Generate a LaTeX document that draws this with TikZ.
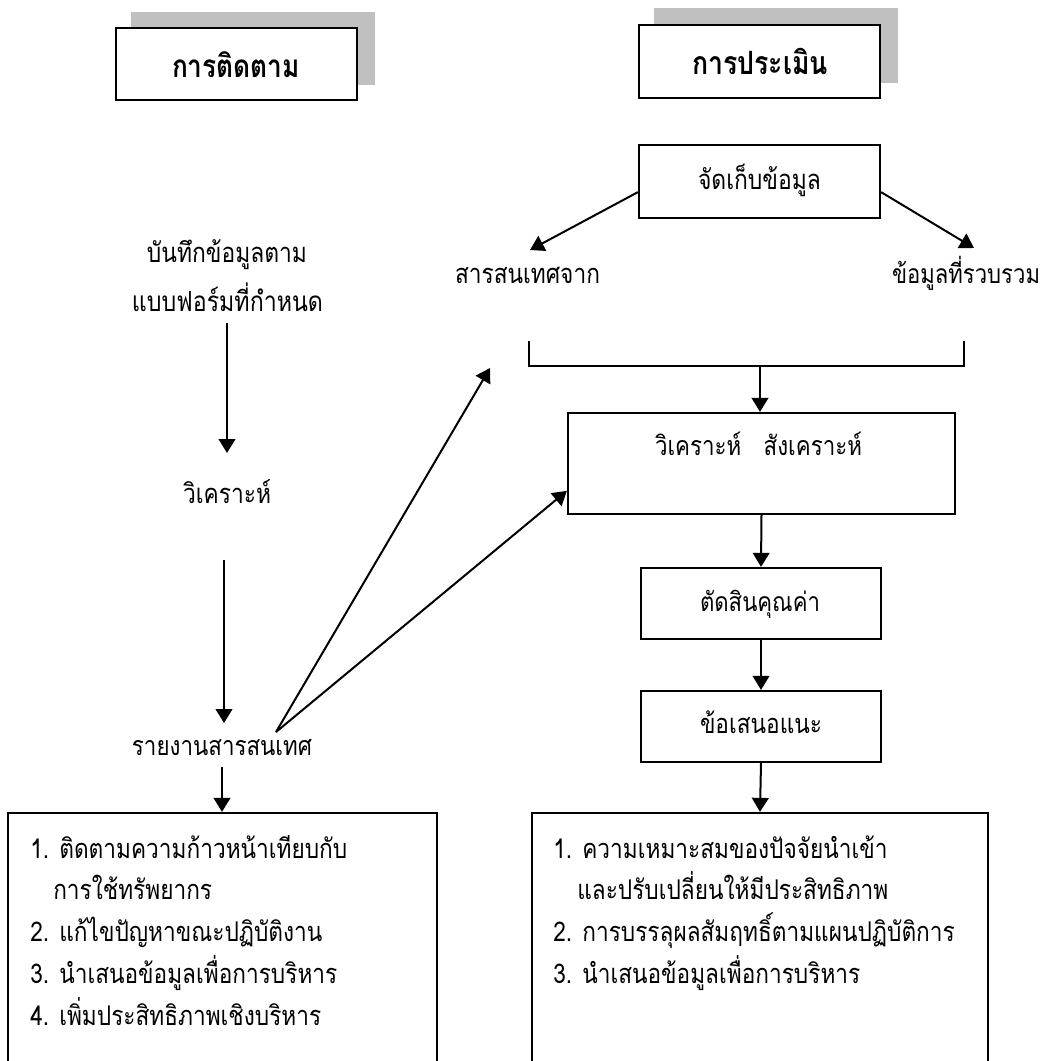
\documentclass[tikz,border=0pt]{standalone}
\usepackage{fontspec}
\usepackage{graphicx}
\setmainfont[Script=Thai]{Loma}
\usetikzlibrary{arrows.meta,calc}
\definecolor{shadowgray}{HTML}{C0C0C0}
\newcommand{\tallt}[1]{\scalebox{1}[1.2]{#1}}
\newcommand{\fitw}[2]{\tallt{\resizebox{#1pt}{!}{#2}}}
\newlength{\lstw}
\begin{document}
\settowidth{\lstw}{\fontsize{17}{20}\selectfont 3. นำเสนอข้อมูลเพื่อการบริหาร}
\pgfmathsetmacro{\lstfs}{17*230.25/\lstw}
\begin{tikzpicture}[x=0.75pt,y=-0.75pt,
  every node/.style={font=\fontsize{20}{24}\selectfont},
  frame/.style={draw, line width=1.7pt, inner sep=0pt},
  titlebox/.style={draw, line width=2.2pt, fill=white, inner sep=0pt},
  titletxt/.style={anchor=base, inner sep=0pt, font=\fontsize{20}{24}\selectfont\bfseries},
  lbl/.style={anchor=base, inner sep=0pt},
  arr/.style={line width=1.5pt, -{Triangle[length=10.5pt,width=12.5pt]}},
  lst/.style={anchor=base west, inner sep=0pt, font=\fontsize{\lstfs}{24}\selectfont},
]
\useasboundingbox (0,0) rectangle (1047,1061);
% shadows
\fill[shadowgray] (131,12) rectangle (375,85);
\fill[shadowgray] (654,8) rectangle (898,83);
% titles
\node[titlebox, minimum width=180.75pt, minimum height=54pt] (t1) at (236.5,64) {};
\node[titletxt] (t1t) at (236,77) {\fitw{96}{การติดตาม}};
\node[titlebox, minimum width=180.75pt, minimum height=54.75pt] (t2) at (759.5,61.5) {};
\node[titletxt] (t2t) at (760,74) {\fitw{102}{การประเมิน}};
% left column
\node[lbl] (rec1) at (227,262) {\fitw{120}{บันทึกข้อมูลตาม}};
\node[lbl] (rec2) at (227.5,311) {\fitw{143.25}{แบบฟอร์มที่กำหนด}};
\node[lbl] (ana) at (227,503) {\fitw{66}{วิเคราะห์}};
\node[lbl] (rep) at (222,755) {\fitw{135}{รายงานสารสนเทศ}};
\node[frame, minimum width=321.75pt, minimum height=191.25pt] (lbox) at (222.5,940.5) {};
\node[lst] (l1) at (30,858) {\tallt{1. ติดตามความก้าวหน้าเทียบกับ}};
\node[lst] (l2) at (53,899.75) {\tallt{การใช้ทรัพยากร}};
\node[lst] (l3) at (30,941.5) {\tallt{2. แก้ไขปัญหาขณะปฏิบัติงาน}};
\node[lst] (l4) at (30,983.25) {\tallt{3. นำเสนอข้อมูลเพื่อการบริหาร}};
\node[lst] (l5) at (30,1025) {\tallt{4. เพิ่มประสิทธิภาพเชิงบริหาร}};
% right column
\node[frame, minimum width=180.75pt, minimum height=54.75pt] (col) at (759.5,181.5) {};
\node[lbl] (colt) at (759.5,189) {\fitw{92.25}{จัดเก็บข้อมูล}};
\node[lbl] (src) at (527.5,283) {\fitw{108.75}{สารสนเทศจาก}};
\node[lbl] (gat) at (966,283) {\fitw{111}{ข้อมูลที่รวบรวม}};
\coordinate (bl) at (529,341);
\coordinate (br) at (964,341);
\coordinate (bm) at (760,366);
\draw[line width=1.2pt] (bl) |- (br |- bm) -- (br);
\node[frame, minimum width=290.25pt, minimum height=75.75pt] (vs) at (761.5,463.5) {};
\node[lbl] (vst) at (758.5,455) {\fitw{155.25}{วิเคราะห์\quad สังเคราะห์}};
\node[frame, minimum width=180pt, minimum height=53.25pt] (jud) at (761,603.5) {};
\node[lbl] (judt) at (760,611) {\fitw{90}{ตัดสินคุณค่า}};
\node[frame, minimum width=180pt, minimum height=53.25pt] (sug) at (761,726.5) {};
\node[lbl] (sugt) at (761,733) {\fitw{91.5}{ข้อเสนอแนะ}};
\node[frame, minimum width=342pt, minimum height=191.25pt] (rbox) at (760,940.5) {};
\node[lst] (r1) at (553,858) {\tallt{1. ความเหมาะสมของปัจจัยนำเข้า}};
\node[lst] (r2) at (577,899.75) {\tallt{และปรับเปลี่ยนให้มีประสิทธิภาพ}};
\node[lst] (r3) at (553,941.5) {\tallt{2. การบรรลุผลสัมฤทธิ์ตามแผนปฏิบัติการ}};
\node[lst] (r4) at (553,983.25) {\tallt{3. นำเสนอข้อมูลเพื่อการบริหาร}};
% connector ends
\coordinate (recEnd) at (227,323);
\coordinate (anaTop) at (227,453);
\coordinate (anaEnd) at (224,560);
\coordinate (repTop) at (224,723);
\coordinate (repEnd) at (222,767);
\coordinate (fan) at (276,732);
\coordinate (fantip) at (490,368);
\coordinate (srcTop) at (530,250);
\coordinate (gatTop) at (974,248);
% connectors
\draw[arr] (recEnd) -- (anaTop);
\draw[arr] (anaEnd) -- (repTop);
\draw[arr] (repEnd) -- (repEnd |- lbox.north);
\draw[arr] (fan) -- (fantip);
\draw[arr] (fan) -- (vs.188.67);
\draw[arr] (col.185) -- (srcTop);
\draw[arr] (col.355) -- (gatTop);
\draw[arr] (bm) -- (bm |- vs.north);
\draw[arr] (vs.south) -- (jud.north);
\draw[arr] (jud.south) -- (sug.north);
\draw[arr] (sug.south) -- (rbox.north);
\end{tikzpicture}
\end{document}
